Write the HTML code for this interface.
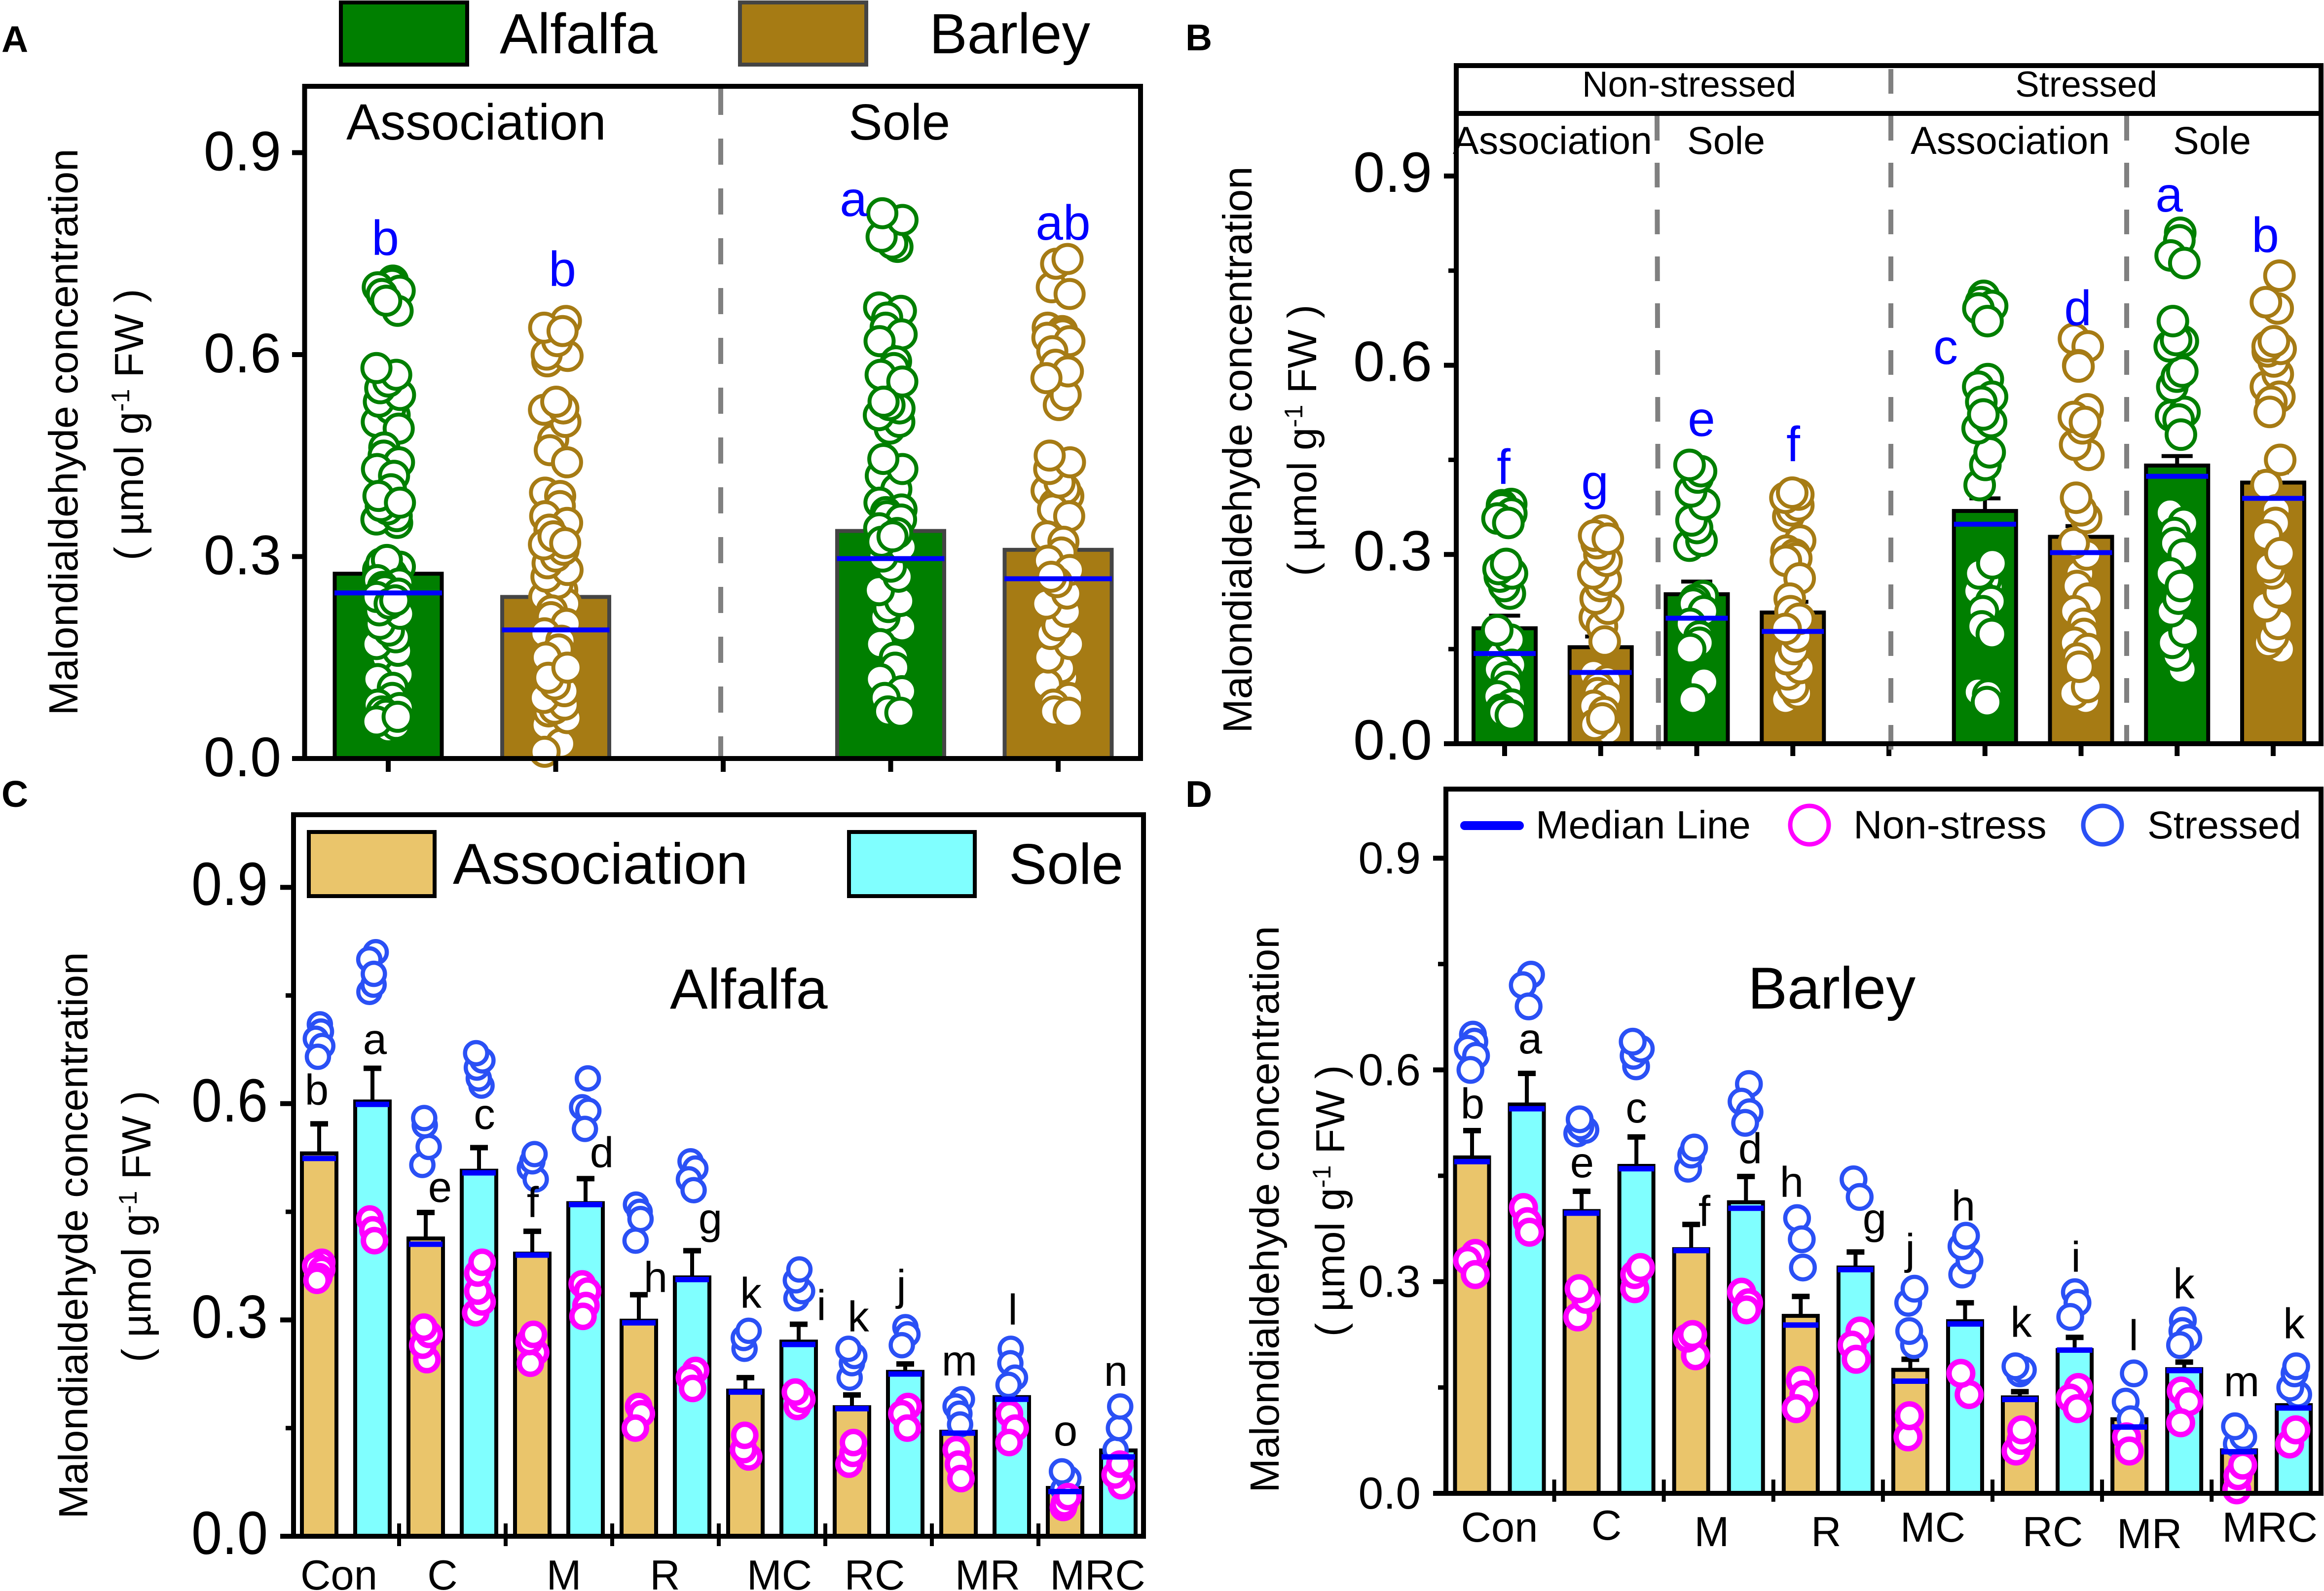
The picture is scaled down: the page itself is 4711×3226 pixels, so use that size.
<!DOCTYPE html>
<html lang="en">
<head>
<meta charset="utf-8">
<title>Malondialdehyde concentration panels</title>
<style>
html,body{margin:0;padding:0;background:#fff;width:4711px;height:3226px;overflow:hidden}
svg{display:block;font-family:"Liberation Sans",Arial,sans-serif}
.lb{font-size:100px;fill:#0000ff;text-anchor:middle}
.lk{font-size:87px;fill:#000;text-anchor:middle}
.yl{font-size:83px;text-anchor:middle}
.pl{font-size:75px;font-weight:bold}
</style>
</head>
<body>
<svg id="figure" xmlns="http://www.w3.org/2000/svg" width="4711" height="3226" viewBox="0 0 4711 3226">
<rect width="4711" height="3226" fill="#fff"/>

<g>
  <text class="pl" x="3" y="105">A</text>
  <rect x="691" y="5" width="256" height="126" fill="#007F00" stroke="#000" stroke-width="8"/>
  <text x="1013" y="108" font-size="115">Alfalfa</text>
  <rect x="1500" y="5" width="256" height="126" fill="#A67B14" stroke="#444" stroke-width="8"/>
  <text x="1884" y="108" font-size="115">Barley</text>
  <g id="a-marks"></g>
  <line x1="1461" y1="180" x2="1461" y2="1538" stroke="#808080" stroke-width="10" stroke-dasharray="53 48"/>
  <rect x="617.5" y="175" width="1694.5" height="1363" fill="none" stroke="#000" stroke-width="10"/>
  <text x="702" y="283" font-size="103">Association</text>
  <text x="1720" y="283" font-size="103">Sole</text>
  <text class="yl" transform="translate(157,876) rotate(-90)">Malondialdehyde concentration</text>
  <text class="yl" transform="translate(290,861) rotate(-90)">( µmol g<tspan dy="-28" font-size="52">-1</tspan><tspan dy="28"> FW )</tspan></text>
  <text class="lb" x="781" y="517">b</text>
  <text class="lb" x="1140" y="580">b</text>
  <text class="lb" x="1730" y="438">a</text>
  <text class="lb" x="2155" y="486">ab</text>
</g>

<g>
  <text class="pl" x="2403" y="102">B</text>
  <g id="b-marks"></g>
  <line x1="3359" y1="235" x2="3362" y2="1530" stroke="#808080" stroke-width="10" stroke-dasharray="50 45"/>
  <line x1="3833" y1="140" x2="3833" y2="1530" stroke="#808080" stroke-width="10" stroke-dasharray="50 45"/>
  <line x1="4311" y1="235" x2="4311" y2="1513" stroke="#808080" stroke-width="10" stroke-dasharray="50 45"/>
  <rect x="2952" y="133" width="1753" height="1375" fill="none" stroke="#000" stroke-width="10"/>
  <line x1="2952" y1="230" x2="4705" y2="230" stroke="#000" stroke-width="10"/>
  <text x="3424" y="196" font-size="73" text-anchor="middle">Non-stressed</text>
  <text x="4229" y="196" font-size="73" text-anchor="middle">Stressed</text>
  <text x="2945" y="312" font-size="79">Association</text>
  <text x="3420" y="312" font-size="79">Sole</text>
  <text x="3873" y="312" font-size="79">Association</text>
  <text x="4405" y="312" font-size="79">Sole</text>
  <text class="yl" transform="translate(2537,912) rotate(-90)">Malondialdehyde concentration</text>
  <text class="yl" transform="translate(2668,893) rotate(-90)">( µmol g<tspan dy="-28" font-size="52">-1</tspan><tspan dy="28"> FW )</tspan></text>
  <text class="lb" x="3048" y="981">f</text>
  <text class="lb" x="3233" y="1012">g</text>
  <text class="lb" x="3449" y="884">e</text>
  <text class="lb" x="3635" y="935">f</text>
  <text class="lb" x="3944" y="738">c</text>
  <text class="lb" x="4212" y="659">d</text>
  <text class="lb" x="4397" y="429">a</text>
  <text class="lb" x="4592" y="511">b</text>
</g>

<g>
  <text class="pl" x="3" y="1636">C</text>
  <g id="c-marks"></g>
  <rect x="595" y="1652" width="1723" height="1463" fill="none" stroke="#000" stroke-width="10"/>
  <rect x="626" y="1687" width="255" height="130" fill="#EAC56B" stroke="#000" stroke-width="8"/>
  <text x="918" y="1792" font-size="117">Association</text>
  <rect x="1721" y="1687" width="255" height="130" fill="#80FFFF" stroke="#000" stroke-width="8"/>
  <text x="2045" y="1792" font-size="116">Sole</text>
  <text x="1358" y="2045" font-size="115">Alfalfa</text>
  <text class="yl" transform="translate(177,2505) rotate(-90)">Malondialdehyde concentration</text>
  <text class="yl" transform="translate(305,2487) rotate(-90)">( µmol g<tspan dy="-28" font-size="52">-1</tspan><tspan dy="28"> FW )</tspan></text>
  <text class="lk" x="642" y="2240">b</text>
  <text class="lk" x="760" y="2137">a</text>
  <text class="lk" x="892" y="2437">e</text>
  <text class="lk" x="982" y="2289">c</text>
  <text class="lk" x="1080" y="2468">f</text>
  <text class="lk" x="1220" y="2367">d</text>
  <text class="lk" x="1329" y="2620">h</text>
  <text class="lk" x="1440" y="2501">g</text>
  <text class="lk" x="1522" y="2652">k</text>
  <text class="lk" x="1665" y="2677">i</text>
  <text class="lk" x="1740" y="2700">k</text>
  <text class="lk" x="1827" y="2636">j</text>
  <text class="lk" x="1945" y="2789">m</text>
  <text class="lk" x="2053" y="2686">l</text>
  <text class="lk" x="2160" y="2931">o</text>
  <text class="lk" x="2262" y="2810">n</text>
</g>

<g>
  <text class="pl" x="2403" y="1636">D</text>
  <g id="d-marks"></g>
  <rect x="2931" y="1600" width="1774" height="1428" fill="none" stroke="#000" stroke-width="10"/>
  <line x1="2969" y1="1674" x2="3080" y2="1674" stroke="#0000ff" stroke-width="18" stroke-linecap="round"/>
  <text x="3113" y="1700" font-size="80">Median Line</text>
  <circle cx="3668" cy="1673" r="39" fill="#fff" stroke="#FF00FF" stroke-width="9"/>
  <text x="3757" y="1700" font-size="81">Non-stress</text>
  <circle cx="4262" cy="1673" r="39" fill="#fff" stroke="#2A50F5" stroke-width="9"/>
  <text x="4353" y="1700" font-size="79">Stressed</text>
  <text x="3543" y="2045" font-size="120">Barley</text>
  <text class="yl" transform="translate(2592,2452) rotate(-90)">Malondialdehyde concentration</text>
  <text class="yl" transform="translate(2725,2435) rotate(-90)">( µmol g<tspan dy="-28" font-size="52">-1</tspan><tspan dy="28"> FW )</tspan></text>
  <text class="lk" x="2985" y="2268">b</text>
  <text class="lk" x="3102" y="2136">a</text>
  <text class="lk" x="3207" y="2387">e</text>
  <text class="lk" x="3317" y="2276">c</text>
  <text class="lk" x="3455" y="2486">f</text>
  <text class="lk" x="3548" y="2359">d</text>
  <text class="lk" x="3632" y="2427">h</text>
  <text class="lk" x="3800" y="2501">g</text>
  <text class="lk" x="3872" y="2563">j</text>
  <text class="lk" x="3980" y="2475">h</text>
  <text class="lk" x="4097" y="2711">k</text>
  <text class="lk" x="4208" y="2579">i</text>
  <text class="lk" x="4325" y="2738">l</text>
  <text class="lk" x="4427" y="2633">k</text>
  <text class="lk" x="4544" y="2831">m</text>
  <text class="lk" x="4650" y="2714">k</text>
</g>
</svg>

<script>
/* ---------- shared axis labels ---------- */
const yTickValues = [0, 0.3, 0.6, 0.9];
const yTickLabels = ['0.0', '0.3', '0.6', '0.9'];
const yMinorValues = [0.15, 0.45, 0.75];

/* ---------- panel A ---------- */
const aCategories = ['Alfalfa association', 'Barley association', '', 'Alfalfa sole', 'Barley sole'];
const aBars = [0.2745, 0.24, null, 0.338, 0.31];
const aMedians = [0.246, 0.191, null, 0.297, 0.267];
const aErrors = [0.298, 0.26, null, 0.36, 0.33];
const aPoints = [
  [.71,.705,.70,.695,.69,.68,.665,.58,.57,.56,.55,.54,.53,.52,.51,.50,.49,.462,.45,.44,.43,.42,.40,.39,.38,.375,.37,.36,.355,.35,.295,.29,.285,.28,.275,.27,.265,.26,.255,.25,.245,.24,.235,.23,.22,.215,.20,.19,.18,.17,.16,.15,.13,.125,.118,.105,.09,.08,.075,.07,.065,.062,.055,.05,.045],
  [.65,.64,.635,.62,.60,.598,.59,.53,.52,.518,.50,.474,.458,.44,.395,.39,.375,.36,.35,.34,.33,.32,.318,.31,.30,.29,.28,.27,.26,.25,.24,.23,.22,.21,.20,.186,.175,.162,.15,.135,.12,.11,.10,.09,.08,.074,.07,.06,.05,.035,.022,.01],
  [],
  [.81,.80,.775,.765,.76,.67,.665,.655,.64,.63,.62,.59,.58,.57,.56,.53,.525,.52,.51,.50,.49,.445,.43,.42,.41,.40,.38,.37,.366,.36,.355,.342,.335,.33,.322,.314,.30,.285,.27,.25,.234,.225,.21,.195,.17,.15,.135,.118,.10,.09,.07,.068],
  [.742,.735,.70,.69,.64,.635,.63,.625,.62,.605,.585,.575,.565,.54,.525,.45,.44,.43,.41,.40,.398,.39,.378,.37,.36,.33,.322,.306,.294,.28,.27,.262,.245,.23,.218,.198,.185,.17,.15,.134,.12,.11,.09,.08,.07,.068]
];

/* ---------- panel B ---------- */
const bCategories = ['Alfalfa NS association', 'Barley NS association', 'Alfalfa NS sole', 'Barley NS sole', '', 'Alfalfa S association', 'Barley S association', 'Alfalfa S sole', 'Barley S sole'];
const bBars = [0.183, 0.153, 0.237, 0.208, null, 0.369, 0.328, 0.441, 0.414];
const bMedians = [0.143, 0.113, 0.199, 0.178, null, 0.348, 0.303, 0.424, 0.389];
const bErrors = [0.203, 0.17, 0.257, 0.225, null, 0.389, 0.345, 0.456, 0.43];
const bPoints = [
  [.38,.378,.373,.365,.357,.35,.285,.277,.27,.265,.25,.238,.18,.165,.15,.14,.125,.118,.105,.09,.075,.062,.054,.05,.045],
  [.338,.33,.325,.318,.30,.29,.27,.26,.25,.23,.214,.20,.186,.162,.11,.10,.09,.08,.074,.06,.05,.04,.03,.022],
  [.442,.432,.422,.40,.38,.354,.342,.322,.314,.234,.228,.222,.21,.19,.17,.16,.15,.098,.07],
  [.398,.395,.39,.378,.37,.36,.322,.306,.30,.294,.29,.262,.23,.21,.198,.182,.17,.15,.134,.12,.11,.09,.08,.07],
  [],
  [.71,.70,.694,.69,.67,.578,.566,.55,.542,.522,.51,.50,.462,.442,.41,.286,.27,.26,.25,.242,.226,.21,.186,.174,.082,.078,.066],
  [.642,.63,.60,.598,.53,.518,.51,.50,.474,.458,.39,.37,.358,.318,.30,.27,.25,.23,.21,.19,.174,.16,.15,.135,.122,.09,.08,.07],
  [.81,.798,.774,.762,.67,.64,.638,.63,.59,.582,.566,.526,.52,.514,.49,.366,.35,.334,.318,.30,.27,.25,.23,.21,.178,.16,.14,.118],
  [.742,.70,.69,.638,.63,.626,.622,.606,.586,.566,.55,.542,.526,.45,.41,.37,.35,.33,.302,.28,.27,.24,.218,.19,.17,.16,.15]
];

/* ---------- panel C (Alfalfa) ---------- */
const cCategories = ['Con', 'C', 'M', 'R', 'MC', 'RC', 'MR', 'MRC'];
const cBars = [.531,.603,.413,.507,.392,.462,.299,.359,.202,.270,.179,.228,.145,.193,.067,.119];
const cMedians = [.524,.599,.405,.504,.39,.46,.296,.356,.20,.266,.177,.225,.143,.19,.062,.11];
const cErrors = [.572,.649,.449,.539,.423,.496,.335,.396,.22,.294,.196,.239,.15,.205,.075,.125];
const cStressed = [
  [.71,.70,.69,.68,.665],[.81,.80,.78,.765,.755],[.58,.57,.54,.515],[.67,.66,.65,.635,.625],
  [.53,.52,.51,.495],[.635,.595,.59,.565],[.46,.45,.44,.41],[.52,.51,.495,.48],
  [.285,.275,.26],[.37,.355,.34,.33],[.26,.25,.24,.22],[.29,.28,.265],
  [.19,.18,.17,.155],[.26,.24,.22,.21],[.09,.08,.065],[.18,.15,.12]
];
const cNonStress = [
  [.38,.375,.37,.36,.355],[.44,.425,.41],[.29,.28,.265,.245],[.38,.365,.34,.325,.31],
  [.28,.27,.255,.24],[.35,.34,.32,.305],[.18,.17,.15],[.23,.22,.205],
  [.14,.12,.11],[.2,.19,.18],[.13,.115,.10],[.18,.17,.15],
  [.12,.10,.08],[.17,.15,.13],[.055,.045,.04],[.10,.085,.07]
];

/* ---------- panel D (Barley) ---------- */
const dCategories = ['Con', 'C', 'M', 'R', 'MC', 'RC', 'MR', 'MRC'];
const dBars = [.476,.551,.40,.464,.346,.4125,.2515,.32,.175,.244,.136,.203,.105,.176,.061,.125];
const dMedians = [.47,.545,.397,.46,.344,.404,.2385,.317,.159,.24,.133,.203,.094,.174,.059,.121];
const dErrors = [.514,.595,.428,.505,.381,.449,.279,.342,.19,.27,.144,.221,.115,.186,.068,.135];
const dStressed = [
  [.65,.64,.63,.62,.60],[.735,.72,.69],[.53,.52,.515,.51],[.64,.63,.62,.605],
  [.49,.48,.46],[.58,.555,.54,.525],[.39,.36,.32],[.445,.42],
  [.29,.27,.23,.21],[.365,.35,.33,.31],[.18,.175,.17],[.285,.27,.25],
  [.17,.13,.105],[.245,.23,.22,.21],[.095,.08,.07],[.18,.17,.15,.14]
];
const dNonStress = [
  [.34,.33,.31],[.405,.385,.37],[.29,.275,.25],[.32,.31,.29],
  [.225,.22,.195],[.285,.27,.26],[.16,.14,.12],[.23,.21,.19],
  [.11,.08],[.17,.14],[.09,.075,.06],[.15,.135,.12],
  [.08,.06],[.145,.13,.10],[.04,.025,.005],[.09,.07]
];

/* ---------- helpers ---------- */
const SVG_NS = 'http://www.w3.org/2000/svg';
function make(parent, tag, attrs, text) {
  const el = document.createElementNS(SVG_NS, tag);
  for (const k in attrs) el.setAttribute(k, attrs[k]);
  if (text !== undefined) el.textContent = text;
  parent.appendChild(el);
  return el;
}
function jitter(i, seed, spread) {
  return Math.sin(i * 2.399 + seed) * spread;
}

function drawYAxis(g, o) {
  yTickValues.forEach(function (v, i) {
    const t = make(g, 'line', {x1: o.tickFrom, x2: o.left, y1: o.y(v), y2: o.y(v), stroke: '#000', 'stroke-width': 10});
    
    
    const attrs = {x: o.labelRight, y: o.y(v) + o.labelShift, 'font-size': o.labelSize, 'text-anchor': 'end'};
    if (o.labelWidth) { attrs.textLength = o.labelWidth; attrs.lengthAdjust = 'spacingAndGlyphs'; }
    const l = make(g, 'text', attrs, yTickLabels[i]);
    
    
  });
  if (o.minor) {
    yMinorValues.forEach(function (v) {
      const m = make(g, 'line', {x1: o.left - 16, x2: o.left, y1: o.y(v), y2: o.y(v), stroke: '#000', 'stroke-width': 9});
      
      
    });
  }
}

function drawBarsAndErrors(g, o) {
  o.bars.forEach(function (v, i) {
    if (v === null) return;
    const cx = o.x(i);
    const stem = make(g, 'line', {x1: cx, x2: cx, y1: o.y(v), y2: o.y(o.errors[i]), stroke: '#000', 'stroke-width': 8});
    
    
    const cap = make(g, 'line', {x1: cx - o.capW / 2, x2: cx + o.capW / 2, y1: o.y(o.errors[i]), y2: o.y(o.errors[i]), stroke: '#000', 'stroke-width': o.capT});
    
    
    const bar = make(g, 'rect', {x: cx - o.barW / 2, y: o.y(v), width: o.barW, height: o.y(0) - o.y(v), fill: o.fill(i), stroke: o.stroke(i), 'stroke-width': 8});
    
    
  });
}

function drawMedians(g, o) {
  o.medians.forEach(function (v, i) {
    if (v === null) return;
    const m = make(g, 'line', {x1: o.x(i) - o.medW / 2, x2: o.x(i) + o.medW / 2, y1: o.y(v), y2: o.y(v), stroke: '#0000ff', 'stroke-width': o.medT});
    
    
  });
}

function drawPoints(g, groups, o) {
  groups.forEach(function (vals, i) {
    const order = vals.map(function (v, j) { return j; });
    order.sort(function (a, b) { return Math.sin(a * 12.9 + i) - Math.sin(b * 12.9 + i); });
    order.forEach(function (j) {
      const p = make(g, 'circle', {cx: o.x(i) + jitter(j, i * 1.7 + o.seed, o.spread), cy: o.y(vals[j]), r: o.r, fill: '#fff', stroke: o.color(i), 'stroke-width': o.sw});
      
      
    });
  });
}

function drawXTick(g, x, y1, y2, w) {
  const t = make(g, 'line', {x1: x, x2: x, y1: y1, y2: y2, stroke: '#000', 'stroke-width': w});
  
  
}

/* ---------- panel A ---------- */
(function () {
  const g = document.getElementById('a-marks');
  const y = function (v) { return 1538 - 1365 * v; };
  const x = function (i) { return 787 + 339.5 * i; };
  const isAlfalfa = function (i) { return i === 0 || i === 3; };
  const o = {x: x, y: y, bars: aBars, errors: aErrors, medians: aMedians, barW: 217, capW: 60, capT: 8, medW: 218, medT: 10,
    fill: function (i) { return isAlfalfa(i) ? '#007F00' : '#A67B14'; },
    stroke: function (i) { return i === 0 ? '#000' : '#444'; }};
  drawBarsAndErrors(g, o);
  drawPoints(g, aPoints, {x: x, y: y, r: 28.5, sw: 8, spread: 24, seed: 0.4, color: function (i) { return isAlfalfa(i) ? '#007F00' : '#A67B14'; }});
  drawMedians(g, o);
  drawYAxis(g, {y: y, left: 617, tickFrom: 592, labelRight: 570, labelShift: 36, labelSize: 113});
  aCategories.forEach(function (c, i) { drawXTick(g, x(i), 1538, 1565, 10); });
})();

/* ---------- panel B ---------- */
(function () {
  const g = document.getElementById('b-marks');
  const y = function (v) { return 1508 - 1279 * v; };
  const x = function (i) { return 3050 + 194.75 * i; };
  const isAlfalfa = function (i) { return i === 0 || i === 2 || i === 5 || i === 7; };
  const o = {x: x, y: y, bars: bBars, errors: bErrors, medians: bMedians, barW: 126, capW: 63, capT: 8, medW: 126, medT: 10,
    fill: function (i) { return isAlfalfa(i) ? '#007F00' : '#A67B14'; },
    stroke: function () { return '#000'; }};
  drawBarsAndErrors(g, o);
  drawPoints(g, bPoints, {x: x, y: y, r: 29, sw: 8, spread: 15, seed: 1.1, color: function (i) { return isAlfalfa(i) ? '#007F00' : '#A67B14'; }});
  drawMedians(g, o);
  drawYAxis(g, {y: y, left: 2952, tickFrom: 2927, labelRight: 2903, labelShift: 32, labelSize: 115, minor: true});
  bCategories.forEach(function (c, i) { drawXTick(g, x(i), 1508, 1533, 10); });
})();

/* ---------- grouped panels C and D ---------- */
function drawGrouped(g, cfg) {
  const o = {x: cfg.x, y: cfg.y, bars: cfg.bars, errors: cfg.errors, medians: cfg.medians, barW: cfg.barW, capW: 36, capT: 11, medW: cfg.medW, medT: cfg.medT,
    fill: function (i) { return i % 2 === 0 ? '#EAC56B' : '#80FFFF'; },
    stroke: function () { return '#000'; }};
  drawBarsAndErrors(g, o);
  drawPoints(g, cfg.stressed, {x: cfg.x, y: cfg.y, r: cfg.r, sw: 8.5, spread: cfg.spread, seed: 0.2, color: function () { return '#2A50F5'; }});
  drawPoints(g, cfg.nonStress, {x: cfg.x, y: cfg.y, r: cfg.r, sw: 11, spread: cfg.spread, seed: 2.3, color: function () { return '#FF00FF'; }});
  drawMedians(g, o);
  cfg.categories.forEach(function (name, k) {
    const mid = (cfg.x(2 * k) + cfg.x(2 * k + 1)) / 2;
    if (k > 0) drawXTick(g, (cfg.x(2 * k - 1) + cfg.x(2 * k)) / 2, cfg.tickTop, cfg.tickBottom, 8);
    const label = make(g, 'text', {x: mid + cfg.nudge[k], y: cfg.labelY[k], 'font-size': 85, 'text-anchor': 'middle'}, name);
    
    
  });
}

(function () {
  const g = document.getElementById('c-marks');
  const y = function (v) { return 3115 - 1462 * v; };
  const x = function (i) { return 647 + 108 * i; };
  drawGrouped(g, {x: x, y: y, bars: cBars, errors: cErrors, medians: cMedians, stressed: cStressed, nonStress: cNonStress,
    categories: cCategories, barW: 70, medW: 68, medT: 11, r: 22.5, spread: 7, tickTop: 3089, tickBottom: 3135,
    nudge: [-14, -20, 10, -1, 15, -8, 5, 12],
    labelY: [3223, 3223, 3223, 3223, 3223, 3223, 3223, 3223]});
  drawYAxis(g, {y: y, left: 595, tickFrom: 568, labelRight: 543, labelShift: 36, labelSize: 123, labelWidth: 155, minor: true});
})();

(function () {
  const g = document.getElementById('d-marks');
  const y = function (v) { return 3028 - 1431 * v; };
  const x = function (i) { return 2984 + 111.05 * i; };
  drawGrouped(g, {x: x, y: y, bars: dBars, errors: dErrors, medians: dMedians, stressed: dStressed, nonStress: dNonStress,
    categories: dCategories, barW: 69, medW: 72, medT: 11, r: 24, spread: 9, tickTop: 3000, tickBottom: 3045,
    nudge: [0, -5, -14, -4, -10, 11, -15, 7],
    labelY: [3126, 3122, 3135, 3135, 3126, 3135, 3139, 3126]});
  drawYAxis(g, {y: y, left: 2931, tickFrom: 2905, labelRight: 2880, labelShift: 31, labelSize: 91, minor: true});
})();
</script>
</body>
</html>
